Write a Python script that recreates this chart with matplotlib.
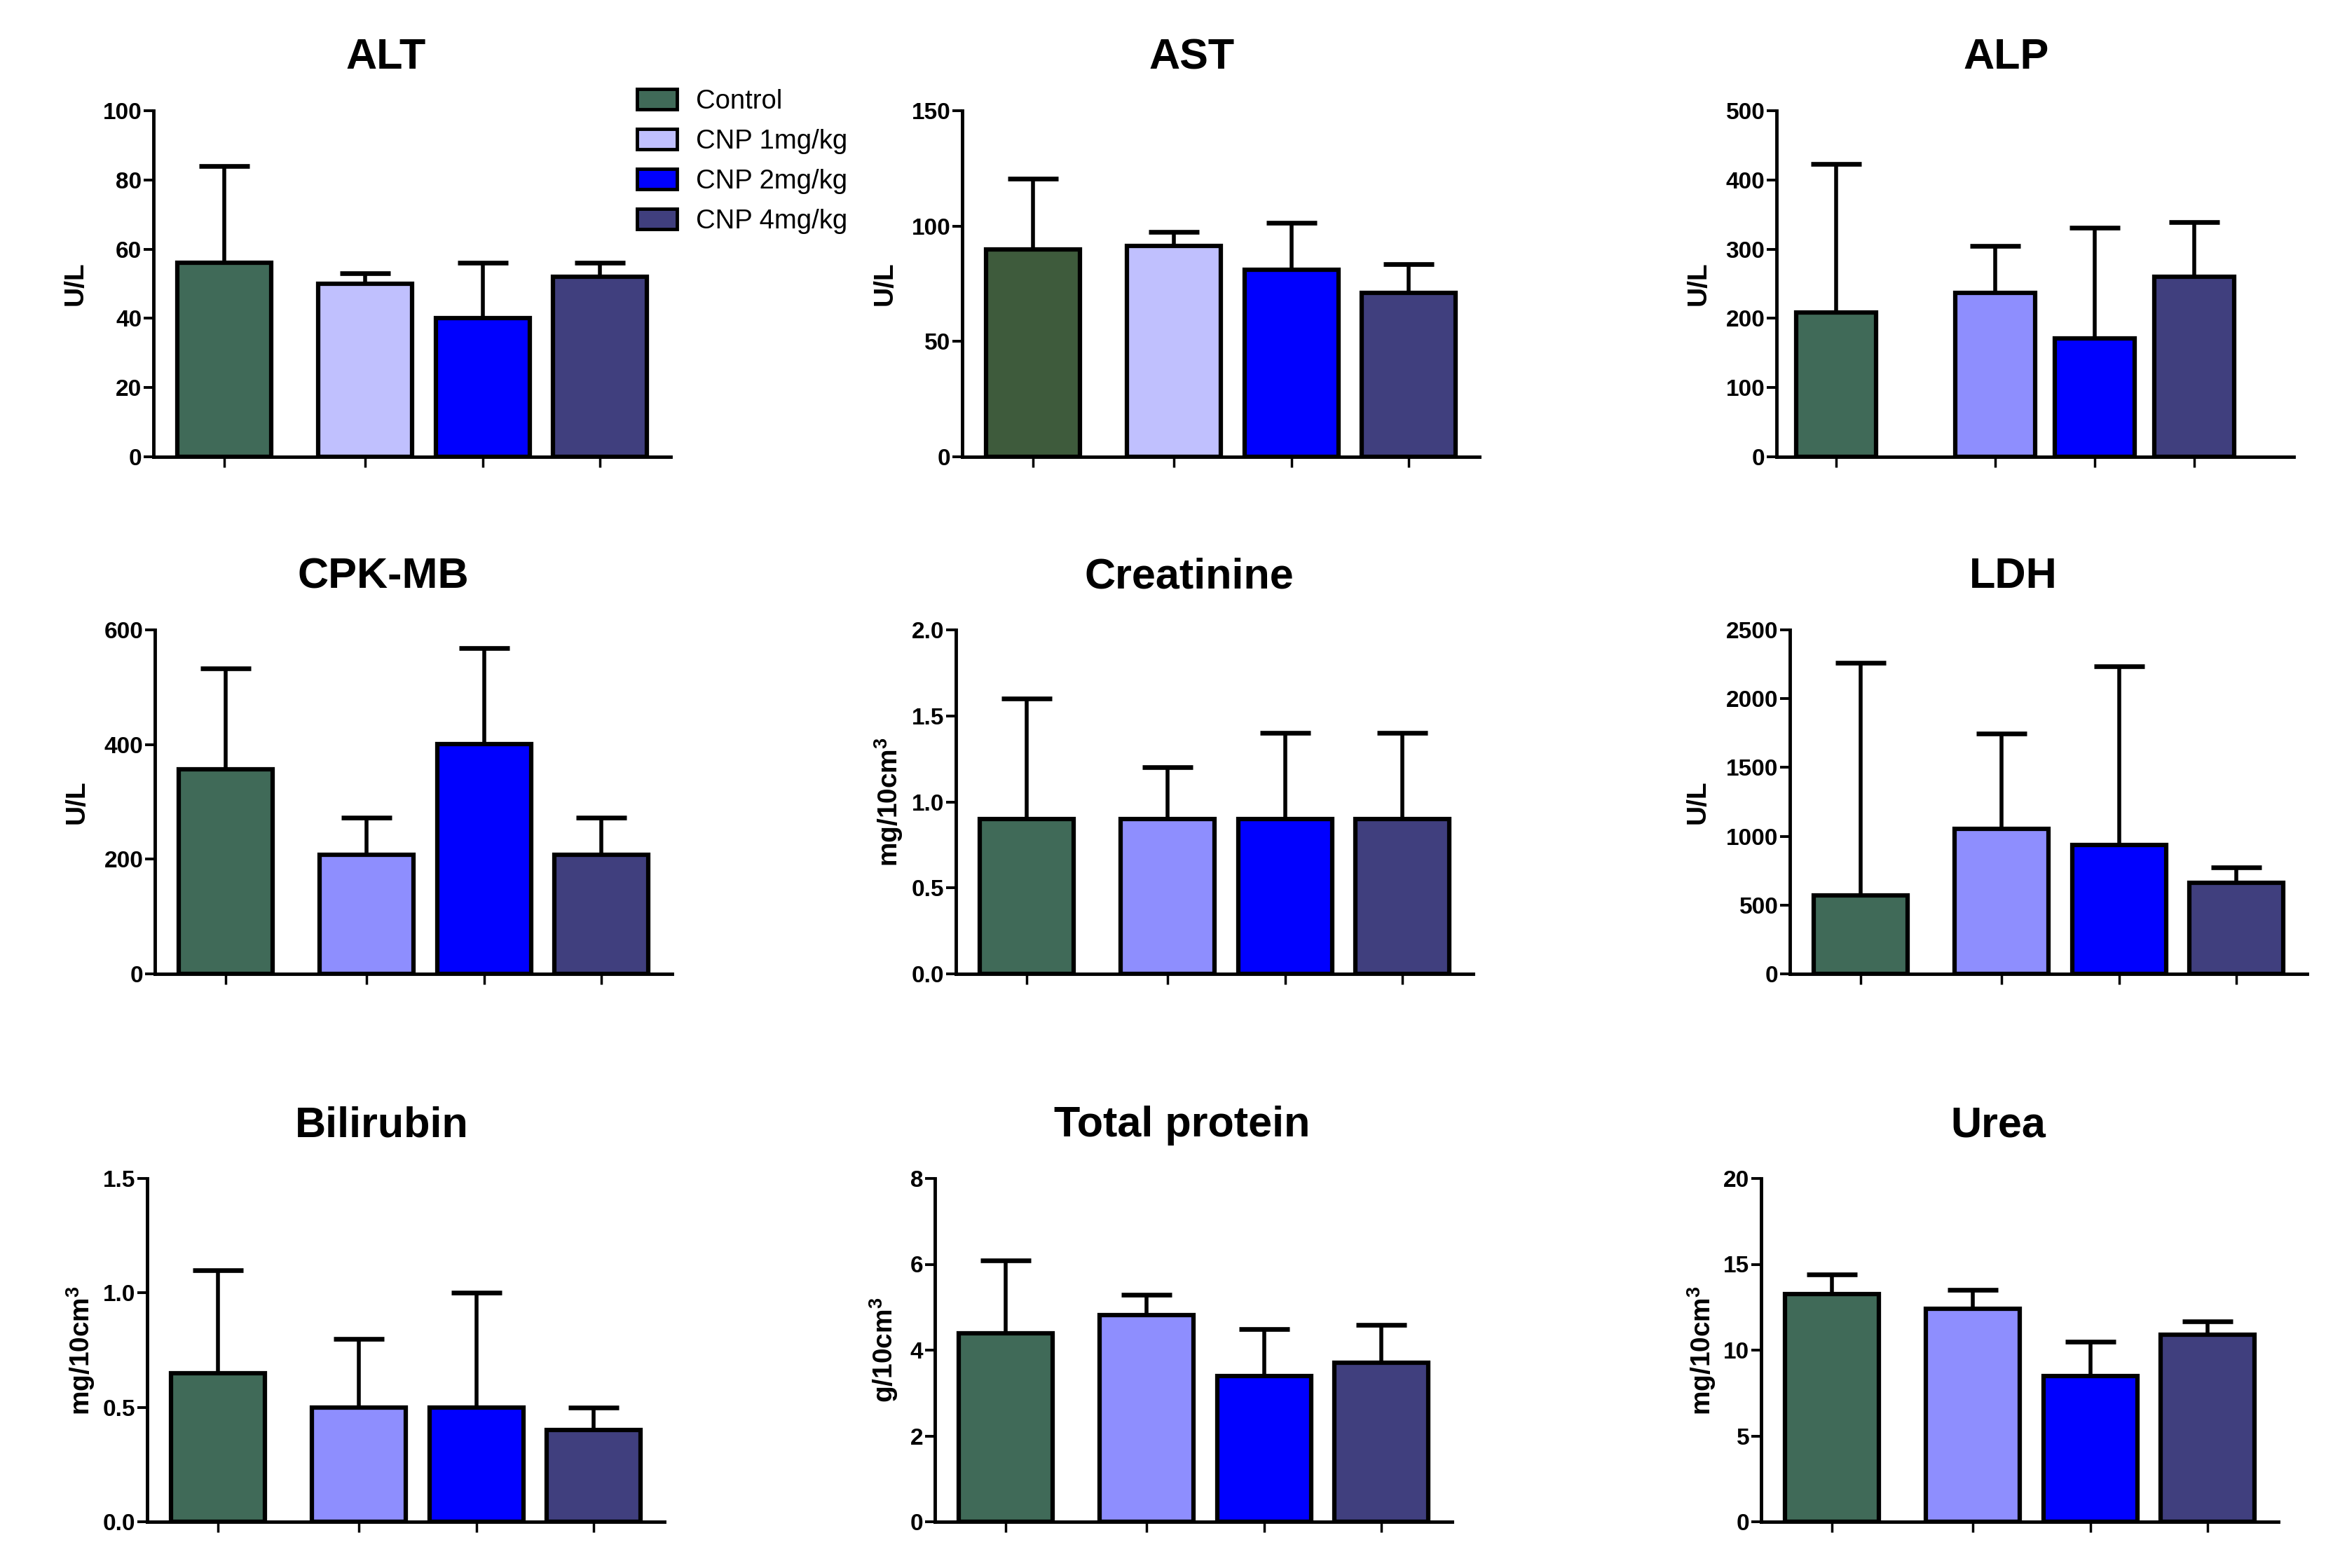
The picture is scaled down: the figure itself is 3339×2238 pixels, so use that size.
import numpy as np
import matplotlib
matplotlib.use("Agg")
import matplotlib.pyplot as plt
from matplotlib.patches import Patch
from matplotlib.ticker import FormatStrFormatter

plt.rcParams['font.family'] = ['Liberation Sans', 'DejaVu Sans']
plt.rcParams['mathtext.fontset'] = 'custom'
plt.rcParams['mathtext.rm'] = 'Liberation Sans:bold'
plt.rcParams['mathtext.bf'] = 'Liberation Sans:bold'

# ---------- data ----------
groups = ["Control", "CNP 1mg/kg", "CNP 2mg/kg", "CNP 4mg/kg"]

titles = ["ALT", "AST", "ALP", "CPK-MB", "Creatinine", "LDH",
          "Bilirubin", "Total protein", "Urea"]
units = ["U/L", "U/L", "U/L", "U/L", "mg/10cm$^{3}$", "U/L",
         "mg/10cm$^{3}$", "g/10cm$^{3}$", "mg/10cm$^{3}$"]

alt_mean = [56, 50, 40, 52]
alt_sd = [28, 3, 16, 4]
ast_mean = [90, 91.5, 81, 71]
ast_sd = [30.5, 6, 20.5, 12.5]
alp_mean = [209, 237, 171, 260]
alp_sd = [214, 68, 160, 79]
cpk_mean = [357, 208, 401, 208]
cpk_sd = [176, 65, 167, 65]
creat_mean = [0.9, 0.9, 0.9, 0.9]
creat_sd = [0.7, 0.3, 0.5, 0.5]
ldh_mean = [570, 1055, 936, 664]
ldh_sd = [1690, 693, 1300, 109]
bili_mean = [0.65, 0.5, 0.5, 0.4]
bili_sd = [0.45, 0.3, 0.5, 0.1]
tp_mean = [4.4, 4.82, 3.4, 3.71]
tp_sd = [1.69, 0.47, 1.09, 0.87]
urea_mean = [13.27, 12.42, 8.5, 10.9]
urea_sd = [1.13, 1.08, 2.0, 0.77]

means = [alt_mean, ast_mean, alp_mean, cpk_mean, creat_mean, ldh_mean,
         bili_mean, tp_mean, urea_mean]
sds = [alt_sd, ast_sd, alp_sd, cpk_sd, creat_sd, ldh_sd,
       bili_sd, tp_sd, urea_sd]

y_max = [100, 150, 500, 600, 2.0, 2500, 1.5, 8, 20]
y_step = [20, 50, 100, 200, 0.5, 500, 0.5, 2, 5]

# ---------- styling / layout ----------
C_CTRL = "#406a58"
C_CTRL_AST = "#3e5b3c"
C_CNP1_LIGHT = "#c0c0fe"
C_CNP1 = "#8e8efe"
C_CNP2 = "#0000fe"
C_CNP4 = "#403f7e"

panel_colors = []
for i in range(9):
    ctrl = C_CTRL_AST if i == 1 else C_CTRL
    cnp1 = C_CNP1_LIGHT if i in (0, 1) else C_CNP1
    panel_colors.append([ctrl, cnp1, C_CNP2, C_CNP4])

# axes rectangles (pixels -> figure fraction)
W, H = 3339, 2238
lefts = [219, 1373, 2535, 221, 1364, 2554, 210, 1334, 2513]
tops = [158, 158, 158, 899, 899, 899, 1682, 1682, 1682]
bottoms = [652, 652, 652, 1390, 1390, 1390, 2172, 2172, 2172]
ax_w = 738
label_x = [-0.126, -0.125, -0.127, -0.127, -0.099, -0.153, -0.097, -0.068, -0.084]
title_x = [0.449, 0.444, 0.444, 0.442, 0.451, 0.432, 0.453, 0.478, 0.459]

fig = plt.figure(figsize=(W / 100, H / 100), dpi=100)

for i in range(9):
    rect = [lefts[i] / W, 1 - bottoms[i] / H, ax_w / W, (bottoms[i] - tops[i]) / H]
    ax = fig.add_axes(rect)

    if i == 2:
        xpos = np.array([0, 1.6, 2.6, 3.6])
        ax.set_xlim(-0.6, 4.6)
    else:
        xpos = np.array([0, 1.2, 2.2, 3.2])
        ax.set_xlim(-0.6, 3.8)

    m = np.array(means[i])
    s = np.array(sds[i])

    ax.bar(xpos, m, width=0.8, color=panel_colors[i], edgecolor="black",
           linewidth=4.5, zorder=2)
    eb = ax.errorbar(xpos, m, yerr=[np.zeros_like(s), s], fmt="none",
                     ecolor="black", elinewidth=4.0, capsize=26, capthick=4.8,
                     zorder=3)
    eb[1][0].set_visible(False)  # only the upper cap

    ax.set_ylim(0, y_max[i])
    ax.set_yticks(np.arange(0, y_max[i] + y_step[i] / 2, y_step[i]))
    if i in (4, 6):
        ax.yaxis.set_major_formatter(FormatStrFormatter("%.1f"))
    ax.set_xticks(xpos)
    ax.set_xticklabels([])

    for sp in ["top", "right"]:
        ax.spines[sp].set_visible(False)
    for sp in ["left", "bottom"]:
        ax.spines[sp].set_linewidth(3.5)

    ax.tick_params(axis="y", direction="out", length=10, width=2.8, pad=2,
                   labelsize=24)
    ax.tick_params(axis="x", direction="out", length=11, width=2.5)
    for lab in ax.get_yticklabels():
        lab.set_fontweight("bold")

    ax.set_ylabel(units[i], fontsize=28, fontweight="bold")
    ax.yaxis.set_label_coords(label_x[i], 0.5)
    ax.set_title(titles[i], fontsize=44, fontweight="bold", pad=43,
                 x=title_x[i])

# legend
leg_colors = [C_CTRL, C_CNP1_LIGHT, C_CNP2, C_CNP4]
handles = [Patch(facecolor=c, edgecolor="black", linewidth=3.5) for c in leg_colors]
fig.legend(handles, groups, loc="upper left",
           bbox_to_anchor=(909 / W, 1 - 127 / H), frameon=False,
           fontsize=27.5, handlelength=1.5, handleheight=0.8,
           handletextpad=0.7, labelspacing=0.55, borderpad=0,
           borderaxespad=0)

fig.savefig("out.png", dpi=100, facecolor="white")
